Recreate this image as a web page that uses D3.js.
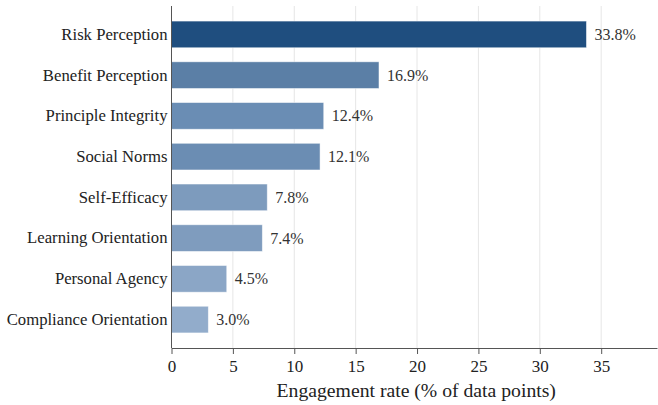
<!DOCTYPE html>
<html>
<head>
<meta charset="utf-8">
<script src="https://cdn.jsdelivr.net/npm/d3@7"></script>
<style>
  body { margin: 0; background: #fff; }
  svg text { font-family: "Liberation Serif", "Times New Roman", serif; }
</style>
</head>
<body>
<svg id="chart"></svg>
<script>
const categories = [
  "Risk Perception", "Benefit Perception", "Principle Integrity", "Social Norms",
  "Self-Efficacy", "Learning Orientation", "Personal Agency", "Compliance Orientation"
];
const rates = [33.8, 16.9, 12.4, 12.1, 7.8, 7.4, 4.5, 3.0];
const barColors = ["#1f4e7f", "#5b7fa6", "#6a8db4", "#6b8db3", "#7d9bbd", "#7f9cbe", "#8ba6c6", "#92accb"];
const xTicks = [0, 5, 10, 15, 20, 25, 30, 35];

const data = categories.map((c, i) => ({ name: c, value: rates[i], color: barColors[i] }));

const W = 658, H = 405;
const margin = { top: 6, right: 1, bottom: 57, left: 171.5 };
const width = W - margin.left - margin.right;
const height = H - margin.top - margin.bottom;

const svg = d3.select("#chart").attr("width", W).attr("height", H);
const chart = svg.append("g").attr("transform", `translate(${margin.left},${margin.top})`);

const x = d3.scaleLinear().domain([0, d3.max(rates) * 1.17]).range([0, width]);
const y = d3.scaleBand().domain(categories).range([0, height]).paddingInner(0.345).paddingOuter(0.37);

// grid
chart.selectAll(".grid")
  .data(xTicks.filter(t => t > 0))
  .enter().append("line")
  .attr("x1", d => x(d)).attr("x2", d => x(d))
  .attr("y1", 0).attr("y2", height)
  .attr("stroke", "#e6e6e6").attr("stroke-width", 1);

// bars
chart.selectAll(".bar")
  .data(data)
  .enter().append("rect")
  .attr("x", 0)
  .attr("y", d => y(d.name))
  .attr("width", d => x(d.value))
  .attr("height", y.bandwidth())
  .attr("fill", d => d.color)
  .attr("stroke", "#ffffff")
  .attr("stroke-opacity", 0.6)
  .attr("stroke-width", 0.8);

// value labels
chart.selectAll(".val")
  .data(data)
  .enter().append("text")
  .attr("x", d => x(d.value) + 8)
  .attr("y", d => y(d.name) + y.bandwidth() / 2)
  .attr("dy", "0.35em")
  .attr("font-size", 16)
  .attr("fill", "#333")
  .text(d => d.value.toFixed(1) + "%");

// x axis
const xAxis = chart.append("g")
  .attr("transform", `translate(0,${height})`)
  .call(d3.axisBottom(x).tickValues(xTicks).tickSize(6).tickSizeOuter(0));
xAxis.select(".domain").attr("stroke", "#555");
xAxis.selectAll(".tick line").attr("stroke", "#555");
xAxis.selectAll("text").attr("font-size", 17).attr("fill", "#222").attr("dy", "0.9em");

// y axis
const yAxis = chart.append("g")
  .call(d3.axisLeft(y).tickSize(0).tickPadding(4));
yAxis.select(".domain").attr("stroke", "#555").attr("d", `M0,0V${height}`);
yAxis.selectAll("text").attr("font-size", 16.7).attr("fill", "#222");

// axis title
svg.append("text")
  .attr("x", margin.left + width / 2 + 2)
  .attr("y", 397)
  .attr("text-anchor", "middle")
  .attr("font-size", 19.7)
  .attr("fill", "#222")
  .text("Engagement rate (% of data points)");
</script>
</body>
</html>
